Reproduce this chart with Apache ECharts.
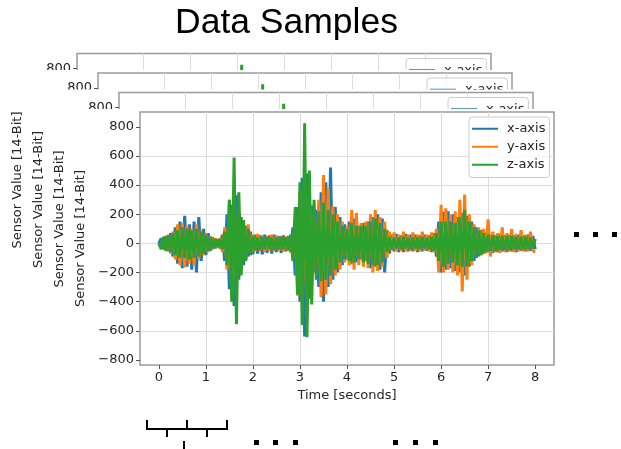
<!DOCTYPE html>
<html>
<head>
<meta charset="utf-8">
<title>Data Samples</title>
<script src="https://cdn.jsdelivr.net/npm/echarts@6/dist/echarts.min.js"></script>
<style>
  html, body { margin: 0; padding: 0; background: #fff; }
  #chart { width: 621px; height: 449px; }
</style>
</head>
<body>
<div id="chart"></div>
<script>
// sensor samples, 20 per second, 0..8 s
const sampleRate = 20;
const seriesNames = ["x-axis", "y-axis", "z-axis"];
const seriesColors = ["#1f77b4", "#ff7f0e", "#2ca02c"];
const timeTicks = [0, 1, 2, 3, 4, 5, 6, 7, 8];
const valueTicks = [-800, -600, -400, -200, 0, 200, 400, 600, 800];

const xAxisValues = [
  0, 35, -40, 50, -55, 70, -90, 110, -140, 150,
  -170, 190, -160, 130, -180, 150, -200, 180, -120, 100,
  -80, 70, -50, 40, -35, 30, -35, 60, -120, 200,
  -315, 265, -430, 330, -250, 180, -150, 120, -90, 80,
  -75, 60, -70, 55, -75, 60, -65, 55, -70, 60,
  -60, 50, -65, 55, -55, 50, -60, 110, -220, 250,
  -400, 450, -640, 480, -380, 260, -200, 230, -300, 350,
  -400, 420, -300, 520, -250, 250, -200, 180, -150, 130,
  -110, 150, -140, 170, -130, 120, -110, 140, -120, 150,
  -170, 180, -160, 200, -180, 170, -200, 90, -70, 60,
  -55, 65, -60, 55, -60, 65, -55, 60, -55, 60,
  -60, 55, -55, 60, -50, 55, -60, 70, -90, 150,
  -200, 215, -180, 220, -170, 200, -190, 180, -200, 210,
  -220, 190, -160, 150, -120, 110, -90, 90, -70, 75,
  -60, 60, -65, 55, -60, 65, -55, 55, -60, 60,
  -55, 55, -60, 60, -50, 55, -55, 60, -50, 50,
  -40
];
const yAxisValues = [
  0, -30, 40, -50, 60, -70, 80, -110, 130, -150,
  140, -165, 120, -140, 100, -150, 130, -110, 90, -80,
  70, -60, 50, -40, 35, -30, 35, -60, 110, -180,
  300, -350, 330, -280, 200, -170, 130, -110, 130, -80,
  60, -55, 65, -50, 55, -60, 50, -55, 60, -50,
  55, -50, 50, -55, 45, -50, 55, -100, 165, -360,
  350, -450, 420, -500, 350, -280, 200, -250, 300, -370,
  470, -350, 380, -280, 255, -220, 200, -180, 150, -130,
  120, -150, 230, -180, 210, -150, 140, -160, 150, -170,
  200, -200, 230, -190, 180, -160, 150, -100, 80, -50,
  75, -55, 60, -50, 80, -55, 60, -50, 75, -50,
  60, -55, 80, -50, 60, -55, 75, -60, 100, -200,
  265, -200, 240, -180, 200, -200, 220, -220, 300, -330,
  335, -250, 200, -150, 130, -100, 110, -80, 100, -70,
  165, -90, 80, -60, 70, -65, 110, -60, 70, -55,
  100, -60, 65, -55, 90, -55, 60, -55, 80, -50,
  -60
];
const zAxisValues = [
  0, -40, 45, -50, 55, -60, 70, -80, 90, -100,
  110, -100, 100, -110, 90, -100, 100, -90, 80, -70,
  60, -50, 40, -35, 30, -25, 30, -40, 80, -150,
  300, -400, 590, -555, 350, -220, 160, -120, 100, -80,
  50, -45, 40, -45, 45, -40, 45, -40, 40, -45,
  40, -40, 45, -40, 40, -45, 60, -120, 250, -350,
  420, -560, 825, -645, 500, -420, 300, -250, 220, -260,
  280, -250, 230, -220, 200, -180, 150, -130, 120, -110,
  100, -120, 140, -130, 120, -110, 120, -130, 120, -140,
  150, -150, 170, -150, 140, -130, 100, -60, 45, -40,
  40, -35, 40, -40, 45, -35, 40, -40, 40, -35,
  40, -40, 45, -35, 40, -40, 45, -50, 70, -120,
  150, -160, 150, -140, 150, -130, 140, -150, 180, -160,
  230, -160, 150, -120, 110, -100, 90, -80, 70, -60,
  60, -50, 55, -50, 50, -45, 50, -45, 50, -45,
  50, -40, 45, -40, 45, -40, 45, -40, 40, -35,
  30
];

const allValues = [xAxisValues, yAxisValues, zAxisValues];
const toPairs = (vals) => vals.map((v, i) => [i / sampleRate, v]);
const pairs = allValues.map(toPairs);

const textColor = "#262626";
const axisFont = "DejaVu Sans";

// four copies of the same figure, stacked back to front
const frameW = 414, frameH = 253;
const frameLeft = (i) => 77 + 21 * i;
const frameTop = (i) => 53.5 + 19.5 * i;

const grids = [], xAxes = [], yAxes = [], series = [], legends = [], covers = [];

[0, 1, 2, 3].forEach((i) => {
  const z = i * 10;
  const left = frameLeft(i), top = frameTop(i);
  if (i > 0) {
    // white page of the next figure hides the one behind it
    covers.push({
      type: "rect", z: z, silent: true,
      shape: { x: left - 64, y: top - 3, width: 700, height: 500 },
      style: { fill: "#ffffff" }
    });
  }
  grids.push({
    left: left, top: top, width: frameW, height: frameH,
    show: true, backgroundColor: "#ffffff",
    borderColor: "#9a9a9a", borderWidth: 1.5, z: z + 1
  });
  xAxes.push({
    type: "value", gridIndex: i, min: -0.4, max: 8.4, splitNumber: 9, z: z + 2,
    name: "Time [seconds]", nameLocation: "middle", nameGap: 24,
    nameTextStyle: { fontFamily: axisFont, fontSize: 13, color: textColor },
    axisLine: { show: false, onZero: false },
    axisTick: { show: true, inside: false, length: 4, customValues: timeTicks, lineStyle: { color: "#555" } },
    axisLabel: {
      customValues: timeTicks, margin: 6, fontFamily: axisFont, fontSize: 13, color: textColor,
      formatter: (v) => (Math.abs(v - Math.round(v)) < 1e-6 ? String(Math.round(v)) : "")
    },
    splitLine: { show: true, showMinLine: false, showMaxLine: false, lineStyle: { color: "#dcdcdc", width: 1 } }
  });
  yAxes.push({
    type: "value", gridIndex: i, min: -835, max: 902, splitNumber: 8, z: z + 2,
    name: "Sensor Value [14-Bit]", nameLocation: "middle", nameGap: 48,
    nameTextStyle: { fontFamily: axisFont, fontSize: 13, color: textColor },
    axisLine: { show: false, onZero: false },
    axisTick: { show: true, inside: false, length: 4, customValues: valueTicks, lineStyle: { color: "#555" } },
    axisLabel: {
      customValues: valueTicks, margin: 6, fontFamily: axisFont, fontSize: 13, color: textColor,
      formatter: (v) => (v % 200 !== 0 ? "" : (v < 0 ? "\u2212" + Math.abs(v) : String(v)))
    },
    splitLine: { show: true, showMinLine: false, showMaxLine: false, lineStyle: { color: "#dcdcdc", width: 1 } }
  });
  seriesNames.forEach((name, s) => {
    series.push({
      name: name, type: "line", xAxisIndex: i, yAxisIndex: i,
      data: pairs[s], symbol: "none", showSymbol: false, silent: true,
      lineStyle: { width: 3, color: seriesColors[s], join: "bevel" },
      itemStyle: { color: seriesColors[s] },
      z: z + 3
    });
  });
  legends.push({
    data: seriesNames, z: z + 4, orient: "vertical",
    left: left + 329, top: top + 5,
    icon: "rect", itemWidth: 26, itemHeight: 2, itemGap: 2.5,
    padding: [4, 4, 5, 3],
    backgroundColor: "rgba(255,255,255,0.8)", borderColor: "#cccccc", borderWidth: 1, borderRadius: 3,
    selectedMode: false,
    textStyle: { fontFamily: axisFont, fontSize: 13, color: textColor, lineHeight: 15.5, padding: [0, 0, 0, 4] }
  });
});

// "..." marks and the window brackets under the time axis
const dot = (x, y) => ({ type: "rect", z: 100, shape: { x: x, y: y, width: 5, height: 5 }, style: { fill: "#000" } });
const stroke = { stroke: "#000", lineWidth: 2, fill: null };
const decorations = [
  dot(574, 232), dot(593, 232), dot(612, 232),
  dot(254, 440), dot(273, 440), dot(293, 440),
  dot(393, 440), dot(413, 440), dot(433, 440),
  { type: "polyline", z: 100, shape: { points: [[147, 420], [147, 429], [227, 429], [227, 420]] }, style: stroke },
  { type: "line", z: 100, shape: { x1: 187, y1: 420, x2: 187, y2: 429 }, style: stroke },
  { type: "line", z: 100, shape: { x1: 167, y1: 429, x2: 167, y2: 437 }, style: stroke },
  { type: "line", z: 100, shape: { x1: 207, y1: 429, x2: 207, y2: 437 }, style: stroke },
  { type: "line", z: 100, shape: { x1: 184, y1: 441, x2: 184, y2: 449 }, style: stroke }
];

const myChart = echarts.init(document.getElementById("chart"), null, { renderer: "canvas" });
myChart.setOption({
  animation: false,
  backgroundColor: "#ffffff",
  title: {
    text: "Data Samples", left: 175, top: 5, padding: 0, z: 100,
    textStyle: { fontFamily: "Liberation Sans", fontSize: 35.5, fontWeight: "normal", color: "#000" }
  },
  tooltip: { show: false },
  grid: grids,
  xAxis: xAxes,
  yAxis: yAxes,
  legend: legends,
  series: series,
  graphic: { elements: covers.concat(decorations) }
});
</script>
</body>
</html>
